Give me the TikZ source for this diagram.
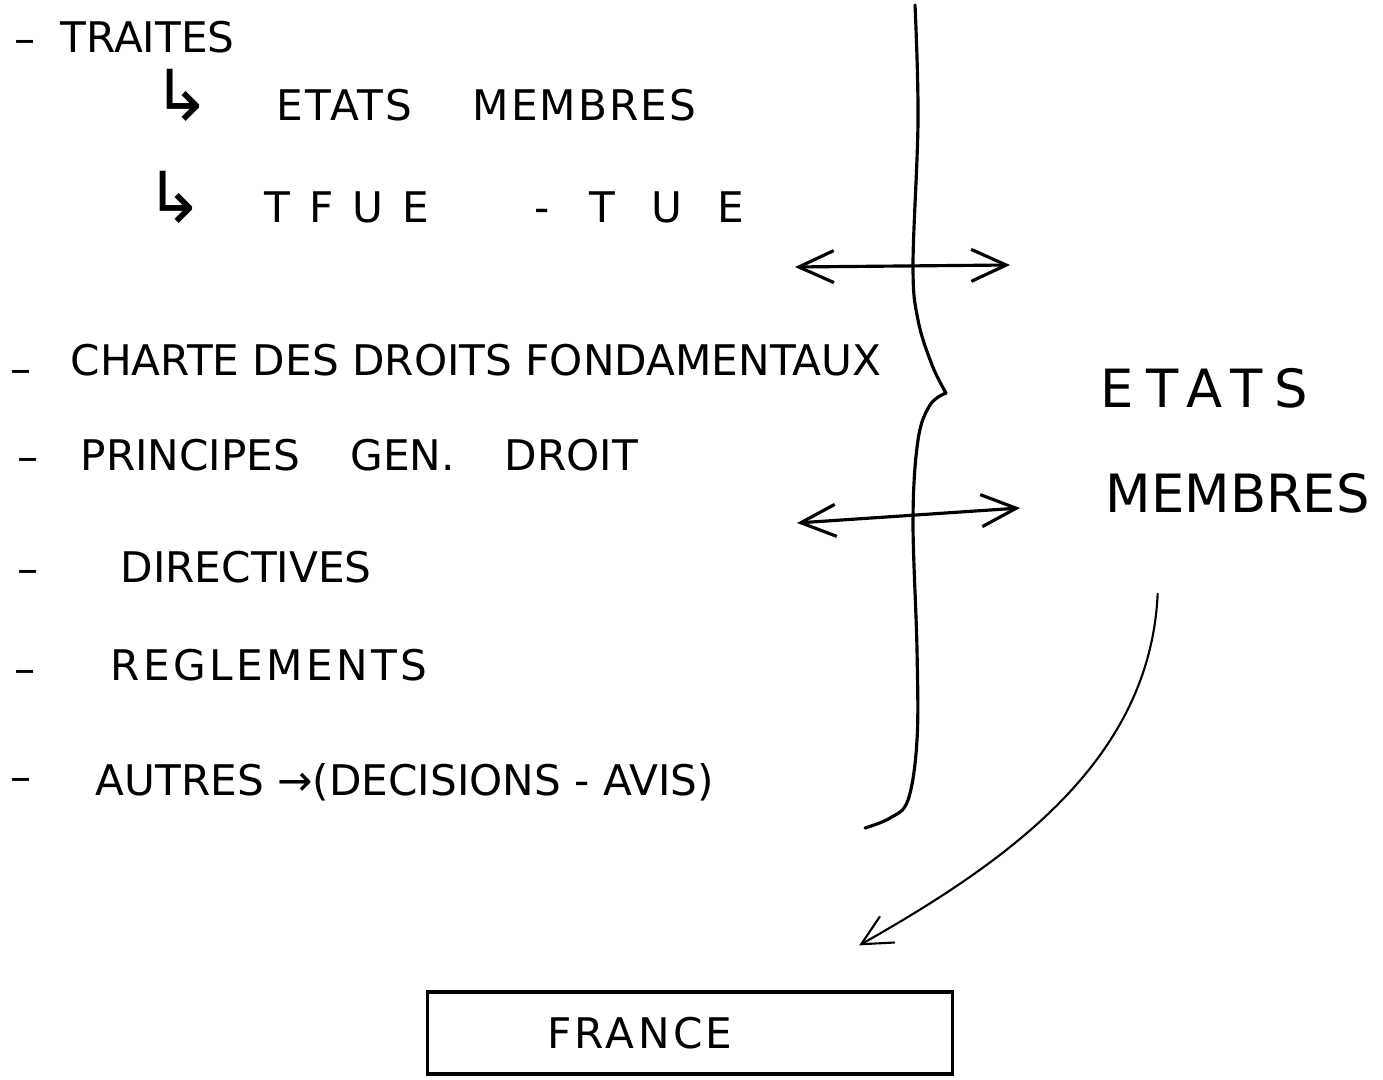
\documentclass[tikz,border=0pt]{standalone}
\usepackage{fontspec}
\setmainfont{DejaVu Sans}
\usetikzlibrary{arrows.meta}

\begin{document}
\begin{tikzpicture}[x=0.01cm,y=-0.01cm,
    txt/.style={anchor=west,inner sep=0pt,font=\fontsize{12}{14}\selectfont},
    big/.style={anchor=west,inner sep=0pt,font=\fontsize{15}{18}\selectfont},
    ink/.style={line width=0.9pt,line cap=round},
    barb/.tip={Straight Barb[length=3.5mm,width=3.2mm]}]
    \useasboundingbox (0,0) rectangle (1383,1080);
    \node[txt] (d1) at (14,47) {–};
    \node[txt] (traites) at (60,37) {TRAITES};
    \node[txt] (em1) at (152,95) {{\fontsize{20}{20}\selectfont ↳}\hspace{0.65cm}{\addfontfeatures{LetterSpace=5}ETATS\hspace{0.6cm}MEMBRES}};
    \node[txt] (tfue) at (145,197) {{\fontsize{20}{20}\selectfont ↳}\hspace{0.6cm}{\addfontfeatures{LetterSpace=45}TFUE}\hspace{1.05cm}-\hspace{0.4cm}{\addfontfeatures{LetterSpace=85}TUE}};
    \node[txt] (d2) at (10,377) {–};
    \node[txt] (charte) at (70,360) {CHARTE DES DROITS FONDAMENTAUX};
    \node[txt] (d3) at (17,465) {–};
    \node[txt] (pgd) at (80,455) {PRINCIPES\hspace{0.5cm}GEN.\hspace{0.5cm}DROIT};
    \node[txt] (d4) at (17,577) {–};
    \node[txt] (dir) at (120,567) {DIRECTIVES};
    \node[txt] (d5) at (14,677) {–};
    \node[txt] (reg) at (110,665) {\addfontfeatures{LetterSpace=8}REGLEMENTS};
    \node[txt] (d6) at (10,785) {–};
    \node[txt] (autres) at (95,782) {AUTRES →(DECISIONS - AVIS)};
    \node[big] (etats) at (1100,388) {\addfontfeatures{LetterSpace=23}ETATS};
    \node[big] (membres) at (1105,493) {MEMBRES};
    \node[draw,line width=0.9pt,minimum width=5.25cm,minimum height=0.82cm,
        font=\fontsize{12}{14}\selectfont] (france) at (690,1033) {\addfontfeatures{LetterSpace=8}FRANCE\hspace*{1cm}};
    \draw[ink] plot[smooth,tension=0.6] coordinates {(915,5) (918,120) (913,265) (918,320) (932,365) (946,393)};
    \draw[ink] plot[smooth,tension=0.6] coordinates {(946,393) (930,405) (918,440) (913,520) (917,650) (917,740) (908,800) (890,818) (865,828)};
    \coordinate (a1l) at (795,267);
    \coordinate (a1r) at (1010,265);
    \coordinate (a2l) at (797,523);
    \coordinate (a2r) at (1020,508);
    \draw[ink,barb-barb] (a1l) -- (a1r);
    \draw[ink,barb-barb] (a2l) -- (a2r);
    \coordinate (c1) at ([xshift=-0.8cm,yshift=-0.8cm]membres.south);
    \coordinate (c2) at ([xshift=-0.95cm,yshift=0.45cm]france.north east);
    \draw[line width=0.6pt,line cap=round,-{Straight Barb[length=3mm,width=3mm]}]
        (c1) .. controls (1150,760) and (1010,860) .. (c2);
\end{tikzpicture}
\end{document}
